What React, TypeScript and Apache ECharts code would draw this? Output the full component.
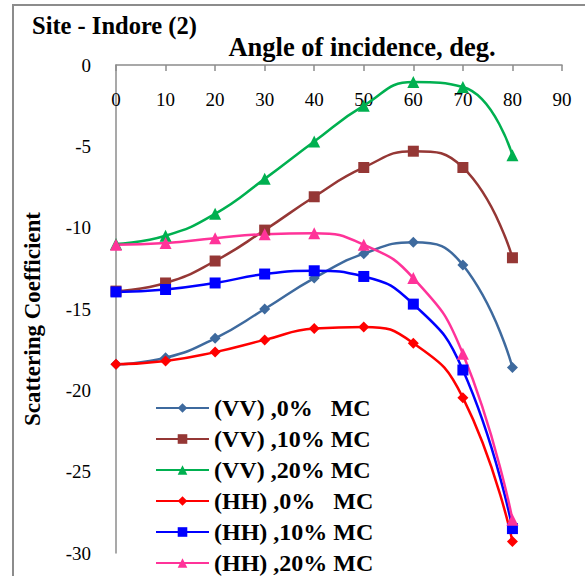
import React, { useEffect, useRef } from "react";
import * as echarts from "echarts";

const angles = [0, 10, 20, 30, 40, 50, 60, 70, 80];
const seriesNames = [
  "(VV) ,0%   MC",
  "(VV) ,10% MC",
  "(VV) ,20% MC",
  "(HH) ,0%   MC",
  "(HH) ,10% MC",
  "(HH) ,20% MC",
];
const vv0 = [-18.4, -18.0, -16.8, -15.0, -13.1, -11.6, -10.9, -12.3, -18.6];
const vv10 = [-13.9, -13.4, -12.05, -10.15, -8.1, -6.3, -5.3, -6.3, -11.85];
const vv20 = [-11.0, -10.5, -9.15, -7.0, -4.7, -2.5, -1.05, -1.35, -5.55];
const hh0 = [-18.4, -18.2, -17.65, -16.9, -16.2, -16.1, -17.1, -20.45, -29.3];
const hh10 = [-13.95, -13.8, -13.4, -12.85, -12.65, -13.0, -14.7, -18.75, -28.5];
const hh20 = [-11.05, -10.95, -10.65, -10.4, -10.35, -11.05, -13.1, -17.75, -27.95];
const seriesValues = [vv0, vv10, vv20, hh0, hh10, hh20];
const seriesColors = ["#3E6A9E", "#953735", "#00B050", "#FF0000", "#0000FF", "#FF3399"];
const seriesSymbols = ["diamond", "rect", "triangle", "diamond", "rect", "triangle"];
const symbolSizes = [11, 11, 12, 11, 11, 12];

const FONT = "'Liberation Serif', 'Times New Roman', serif";

export default function App() {
  const ref = useRef<HTMLDivElement>(null);
  useEffect(() => {
    if (!ref.current) return;
    const chart = echarts.init(ref.current, undefined, { renderer: "svg" });
    chart.setOption({
      animation: false,
      backgroundColor: "#ffffff",
      title: {
        text: "Site - Indore (2)",
        left: 27,
        top: 8,
        textStyle: { fontFamily: FONT, fontWeight: "bold", fontSize: 24.5, color: "#000" },
      },
      graphic: [
        {
          type: "rect",
          shape: { x: 13, y: 5, width: 700, height: 700 },
          style: { fill: "none", stroke: "#8c8c8c", lineWidth: 2 },
          silent: true,
        },
      ],
      grid: { left: 116, right: 23, top: 65, bottom: 23, containLabel: false },
      legend: {
        orient: "vertical",
        left: 155,
        top: 396,
        height: 260,
        padding: 0,
        itemWidth: 53,
        itemHeight: 12,
        itemGap: 7,
        data: seriesNames,
        textStyle: {
          fontFamily: FONT,
          fontWeight: "bold",
          fontSize: 24,
          color: "#000",
        },
      },
      xAxis: {
        type: "value",
        position: "top",
        min: 0,
        max: 90,
        interval: 10,
        name: "Angle of incidence, deg.",
        nameLocation: "middle",
        nameGap: 5,
        nameTextStyle: {
          fontFamily: FONT,
          fontWeight: "bold",
          fontSize: 26.5,
          color: "#000",
          padding: [0, 0, 0, 46],
          verticalAlign: "bottom",
        },
        axisLine: { show: true, lineStyle: { color: "#8c8c8c", width: 1.5 } },
        axisTick: { show: true, inside: true, length: 6, lineStyle: { color: "#8c8c8c", width: 1.5 } },
        axisLabel: {
          inside: true,
          margin: 25,
          fontFamily: FONT,
          fontSize: 19,
          color: "#000",
        },
        splitLine: { show: false },
      },
      yAxis: {
        type: "value",
        min: -30,
        max: 0,
        interval: 5,
        name: "Scattering Coefficient",
        nameLocation: "middle",
        nameGap: 72,
        nameRotate: 90,
        nameTextStyle: {
          fontFamily: FONT,
          fontWeight: "bold",
          fontSize: 23,
          color: "#000",
          padding: [0, 20, 0, 0],
        },
        axisLine: { show: true, lineStyle: { color: "#8c8c8c", width: 1.5 } },
        axisTick: { show: false },
        axisLabel: { margin: 25, fontFamily: FONT, fontSize: 19, color: "#000" },
        splitLine: { show: false },
      },
      series: seriesNames.map((name, i) => ({
        name,
        type: "line",
        smooth: 0.5,
        data: angles.map((a, j) => [a, seriesValues[i][j]]),
        symbol: seriesSymbols[i],
        symbolSize: symbolSizes[i],
        showAllSymbol: true,
        lineStyle: { color: seriesColors[i], width: 2.5 },
        itemStyle: { color: seriesColors[i] },
        emphasis: { disabled: true },
      })),
    });
    return () => chart.dispose();
  }, []);
  return (
    <div
      ref={ref}
      style={{ position: "fixed", left: 0, top: 0, width: 585, height: 576 }}
    />
  );
}
